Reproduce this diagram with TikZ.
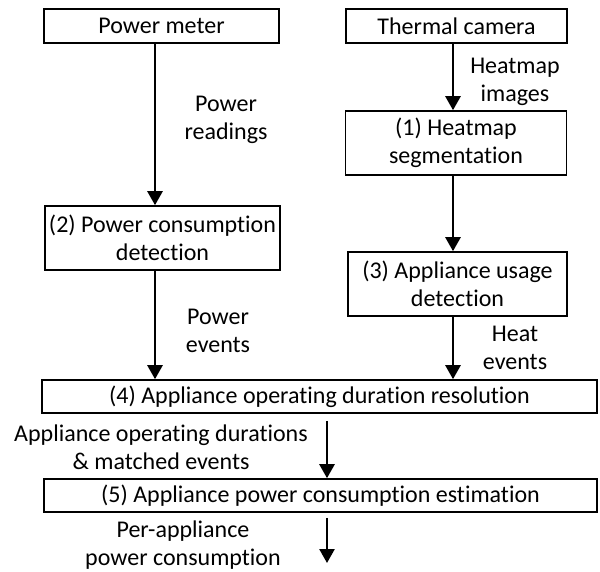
\documentclass[tikz,border=0pt]{standalone}
\usepackage{fontspec}
\setmainfont{Carlito}[Ligatures=NoCommon]
\usetikzlibrary{arrows.meta}
\tikzset{
  stage/.style={draw,line width=1.6pt,inner sep=0pt,align=center,font=\fontsize{24}{28}\selectfont},
  lbl/.style={align=center,inner sep=0pt,font=\fontsize{24}{28}\selectfont},
  flow/.style={line width=2.6pt,-{Triangle[width=15pt,length=14pt]}}
}
\begin{document}
\begin{tikzpicture}[x=1pt,y=-1pt]
	\useasboundingbox (0,0) rectangle (600,571);
	\node[stage,minimum width=235pt,minimum height=34pt] (meter) at (161.5,26) {Power meter};
	\node[stage,minimum width=221pt,minimum height=34pt] (camera) at (456.5,26) {Thermal camera};
	\node[stage,minimum width=221pt,minimum height=64pt] (seg) at (456,143) {(1) Heatmap\\segmentation};
	\node[stage,minimum width=235pt,minimum height=64pt] (pcd) at (162.5,238) {(2) Power consumption\\detection};
	\node[stage,minimum width=219pt,minimum height=64pt] (aud) at (457.5,284) {(3) Appliance usage\\detection};
	\node[stage,minimum width=555pt,minimum height=33pt] (odr) at (319.5,396.5) {(4) Appliance operating duration resolution};
	\node[stage,minimum width=553pt,minimum height=33pt] (pce) at (320.5,495.5) {(5) Appliance power consumption estimation};
	\coordinate (colL) at (155,0);
	\coordinate (colR) at (453,0);
	\coordinate (colM) at (327,0);
	\coordinate (out) at (327,563);
	\draw[flow] (meter.south -| colL) -- (pcd.north -| colL);
	\draw[flow] (camera.south -| colR) -- (seg.north -| colR);
	\draw[flow] (seg.south -| colR) -- (aud.north -| colR);
	\draw[flow] (pcd.south -| colL) -- (odr.north -| colL);
	\draw[flow] (aud.south -| colR) -- (odr.north -| colR);
	\draw[flow,shorten <=7pt] (odr.south -| colM) -- (pce.north -| colM);
	\draw[flow,shorten <=5pt] (pce.south -| colM) -- (out);
	\node[lbl] (readings) at (226,120) {Power\\readings};
	\node[lbl] (images) at (515,82) {Heatmap\\images};
	\node[lbl] (pevents) at (218,331) {Power\\events};
	\node[lbl] (hevents) at (515,348) {Heat\\events};
	\node[lbl] (durations) at (161,447) {Appliance operating durations\\\& matched events};
	\node[lbl] (perapp) at (183,545) {Per-appliance\\power consumption};
\end{tikzpicture}
\end{document}
